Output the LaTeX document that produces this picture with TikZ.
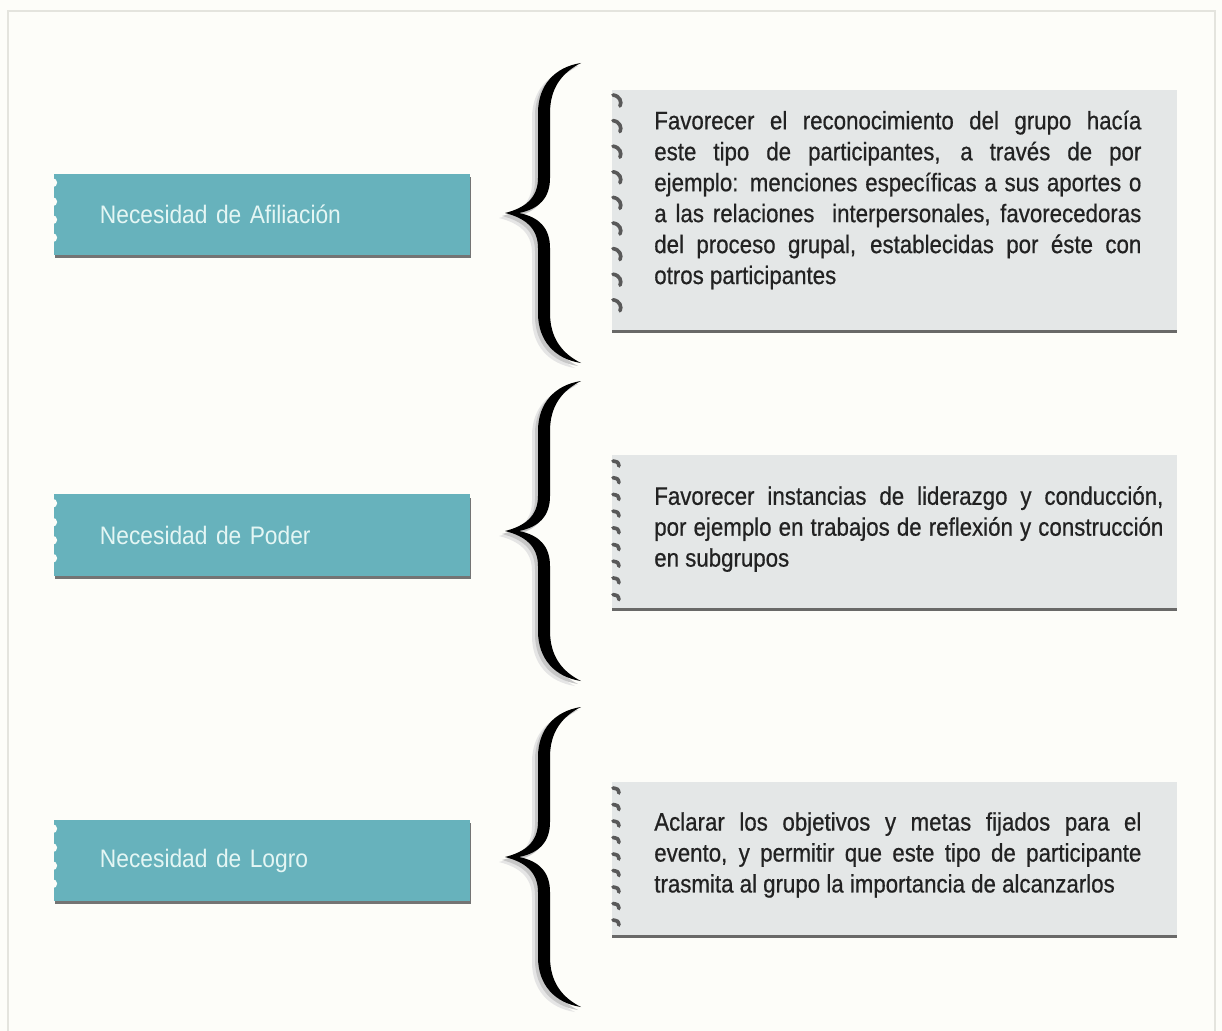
\documentclass[tikz,border=0pt]{standalone}
\usepackage{fontspec}
\setmainfont{Liberation Sans}[FakeStretch=0.9]
\newfontfamily\notefont{Liberation Sans}[FakeStretch=0.88,FakeBold=0.6]
\usetikzlibrary{shadows}
\definecolor{needteal}{HTML}{67B2BC}
\definecolor{needtext}{HTML}{E4F6F4}
\definecolor{notegray}{HTML}{E4E7E7}
\definecolor{notetext}{HTML}{222222}
\definecolor{paper}{HTML}{FDFDF9}
\definecolor{frameline}{HTML}{E4E4DE}

\begin{document}
\begin{tikzpicture}[x=0.025cm,y=-0.025cm,
 need/.style={fill=needteal,text=needtext,minimum width=10.4cm,minimum height=2.025cm,text width=8.1cm,inner xsep=1.15cm,inner ysep=0pt,align=left,font=\fontsize{18}{22}\selectfont,
  drop shadow={shadow xshift=1pt,shadow yshift=-2.2pt,fill=black!60,opacity=.9}},
 note/.style={fill=notegray,minimum width=14.125cm,inner sep=0pt,
  drop shadow={shadow xshift=0pt,shadow yshift=-2.4pt,fill=black!65,opacity=.9}},
 notetxt/.style={anchor=west,inner sep=0pt,text=notetext,align=justify,font=\notefont\fontsize{18}{22}\selectfont},
 ring/.style={draw=black!65,line width=2.6pt,line cap=round},
 curly/.pic={\fill[pic actions] (76,-150) .. controls (50,-146) and (33,-128) .. (33,-100) -- (33,-35)
   .. controls (33,-15) and (20,-5) .. (0,0) .. controls (20,5) and (33,15) .. (33,35) -- (33,100)
   .. controls (33,128) and (50,146) .. (76,150) .. controls (58,141) and (45,126) .. (45,100) -- (45,35)
   .. controls (45,15) and (34,4) .. (14,0) .. controls (34,-4) and (45,-15) .. (45,-35) -- (45,-100)
   .. controls (45,-126) and (58,-141) .. (76,-150) -- cycle;}]
\useasboundingbox (0,0) rectangle (1222,1031);
\fill[paper] (0,0) rectangle (1222,1031);
\draw[frameline,line width=1.5pt] (8,11) rectangle (1215,1045);

% needs
\node[need] (needA) at (262,214.5) {Necesidad de Afiliación};
\node[need] (needB) at (262,535) {Necesidad de Poder};
\node[need] (needC) at (262,860.5) {Necesidad de Logro};
\foreach \n in {needA,needB,needC}
  \foreach \d in {9,28,46,64}
    \fill[paper] (\n.north west) ++(-1,\d) circle[radius=4.5];

% braces
\foreach \ty in {213,531,857}{
  \pic[fill=black!10] at (499,\ty+5) {curly};
  \pic[fill=black!22] at (502,\ty+3) {curly};
  \pic[fill=black] at (505,\ty) {curly};
}

% notes
\node[note,minimum height=6cm] (noteA) at (894.5,210) {};
\node[note,minimum height=3.825cm] (noteB) at (894.5,531.5) {};
\node[note,minimum height=3.825cm] (noteC) at (894.5,858.5) {};
\foreach \y in {100,125.6,...,306} \draw[ring] (613,\y-5) .. controls (620,\y-4) and (622,\y+2) .. (620,\y+6);
\foreach \y in {463,479.7,...,600} \draw[ring] (613,\y-2) .. controls (618,\y-1) .. (619,\y+3);
\foreach \y in {790,806.5,...,925} \draw[ring] (613,\y-2) .. controls (618,\y-1) .. (619,\y+3);

\node[notetxt,text width=12.175cm] (textA) at (654,200) {Favorecer el reconocimiento del grupo hacía\linebreak
 este tipo de participantes, a través de por\linebreak
 ejemplo: menciones específicas a sus aportes o\linebreak
 a las relaciones~~interpersonales, favorecedoras\linebreak
 del proceso grupal, establecidas por éste con\linebreak
 otros participantes};
\node[notetxt,text width=12.725cm] (textB) at (654,529) {Favorecer instancias de liderazgo y conducción,\linebreak
 por ejemplo en trabajos de reflexión y construcción\linebreak
 en subgrupos};
\node[notetxt,text width=12.175cm] (textC) at (654,855) {Aclarar los objetivos y metas fijados para el\linebreak
 evento, y permitir que este tipo de participante\linebreak
 trasmita al grupo la importancia de alcanzarlos};
\end{tikzpicture}
\end{document}
